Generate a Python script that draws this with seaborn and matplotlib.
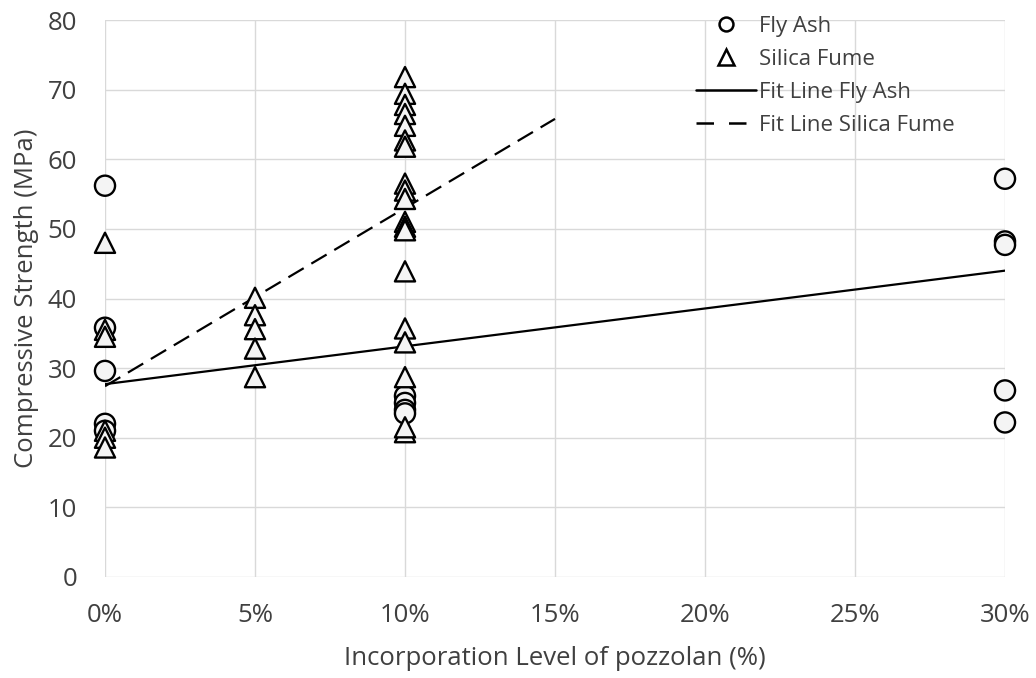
import matplotlib
matplotlib.use("Agg")
import matplotlib.pyplot as plt
from matplotlib.lines import Line2D
from matplotlib.ticker import FuncFormatter, MultipleLocator
import seaborn as sns
import pandas as pd

# Compressive strength (MPa) by pozzolan incorporation level (%)
fly_ash_level = [0, 0, 0, 0, 0,
                 10, 10, 10, 10,
                 30, 30, 30, 30, 30]
fly_ash_strength = [56.2, 35.8, 29.6, 22.0, 21.0,
                    26.0, 25.0, 24.0, 23.5,
                    57.2, 48.2, 47.7, 26.8, 22.2]

silica_level = [0, 0, 0, 0, 0, 0,
                5, 5, 5, 5, 5,
                10, 10, 10, 10, 10, 10, 10, 10, 10, 10, 10, 10, 10, 10,
                10, 10, 10, 10, 10]
silica_strength = [48.0, 35.5, 34.5, 21.0, 20.0, 18.6,
                   40.1, 37.6, 35.6, 32.8, 28.7,
                   71.8, 69.4, 67.8, 66.5, 64.8, 62.7, 61.8,
                   56.5, 55.5, 54.3, 51.0, 50.3, 49.8,
                   43.9, 35.7, 33.7, 28.7, 20.8, 21.5]

# Linear fit end points
fit_fly_x = [0, 30]
fit_fly_y = [27.7, 44.0]
fit_sf_x = [0, 15]
fit_sf_y = [27.4, 65.8]

sns.set_theme(style="white")
plt.rcParams["font.family"] = ["Open Sans", "DejaVu Sans"]

text_color = "#404040"
grid_color = "#d9d9d9"

fig = plt.figure(figsize=(10.36, 6.78), dpi=100)
ax = fig.add_axes([105 / 1036, 1 - 577 / 678, 900 / 1036, 557 / 678])

pts = pd.concat([
    pd.DataFrame({"level": fly_ash_level, "strength": fly_ash_strength, "material": "Fly Ash"}),
    pd.DataFrame({"level": silica_level, "strength": silica_strength, "material": "Silica Fume"}),
])

fits = pd.concat([
    pd.DataFrame({"level": fit_fly_x, "strength": fit_fly_y, "fit": "Fit Line Fly Ash"}),
    pd.DataFrame({"level": fit_sf_x, "strength": fit_sf_y, "fit": "Fit Line Silica Fume"}),
])

sns.lineplot(data=fits, x="level", y="strength", style="fit",
             dashes={"Fit Line Fly Ash": "", "Fit Line Silica Fume": (8, 4)},
             color="black", linewidth=1.6, legend=False, ax=ax, zorder=2)

sns.scatterplot(data=pts, x="level", y="strength", style="material",
                markers={"Fly Ash": "o", "Silica Fume": "^"},
                s=210, facecolor="#f4f4f4", edgecolor="black", linewidth=1.7,
                legend=False, ax=ax, zorder=3)
for coll in ax.collections:
    coll.set_clip_on(False)

ax.set_xlim(0, 30)
ax.set_ylim(0, 80)
ax.xaxis.set_major_locator(MultipleLocator(5))
ax.yaxis.set_major_locator(MultipleLocator(10))
ax.xaxis.set_major_formatter(FuncFormatter(lambda v, p: f"{v:.0f}%"))
ax.grid(True, color=grid_color, linewidth=1.0)
ax.set_axisbelow(True)
for s in ax.spines.values():
    s.set_visible(False)
ax.tick_params(axis="both", length=0, labelsize=18.5, labelcolor=text_color)
ax.tick_params(axis="y", pad=20)
ax.tick_params(axis="x", pad=19)

ax.set_xlabel("Incorporation Level of pozzolan (%)", fontsize=18.5, color=text_color, labelpad=13)
ax.set_ylabel("Compressive Strength (MPa)", fontsize=18.5, color=text_color, labelpad=6)

handles = [
    Line2D([], [], linestyle="none", marker="o", markersize=10, markerfacecolor="white",
           markeredgecolor="black", markeredgewidth=1.8),
    Line2D([], [], linestyle="none", marker="^", markersize=12, markerfacecolor="white",
           markeredgecolor="black", markeredgewidth=1.8),
    Line2D([], [], color="black", linewidth=1.8),
    Line2D([], [], color="black", linewidth=1.8, dashes=(7, 6)),
]
labels = ["Fly Ash", "Silica Fume", "Fit Line Fly Ash", "Fit Line Silica Fume"]
leg = ax.legend(handles, labels, loc="upper left", bbox_to_anchor=(582 / 900, 1.024),
                frameon=False, fontsize=16, handlelength=2.7, handletextpad=0.15,
                labelspacing=0.55, borderaxespad=0)
for t in leg.get_texts():
    t.set_color(text_color)

fig.savefig("out.png", dpi=100, facecolor="white")
